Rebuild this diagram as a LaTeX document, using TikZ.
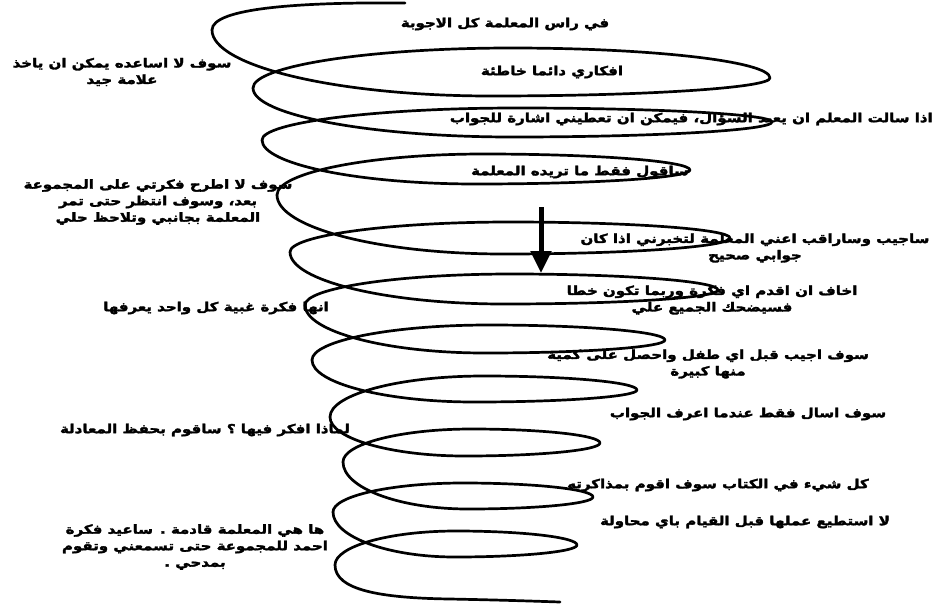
\documentclass[tikz,border=0pt]{standalone}
\usepackage{fontspec}
\newfontfamily\arabicfont[Script=Arabic, UprightFont=* Bold, FakeStretch=1.2, FakeBold=2.5]{DejaVu Sans}
\TeXXeTstate=1
\usetikzlibrary{arrows.meta}
\newcommand\rl[1]{\beginR#1\endR}

\begin{document}
\begin{tikzpicture}[x=1pt, y=-1pt,
  coil/.style={line width=2.7pt, line cap=round, line join=round},
  say/.style={font={\arabicfont\fontsize{12.5}{16.5}\selectfont}, align=center, inner sep=0pt},
  push/.style={line width=5pt, -{Triangle[width=20pt,length=22pt]}}]

  \useasboundingbox (0,0) rectangle (937,606);

  % -- Coil: start at the top --
  \draw[coil] (405,3) .. controls (300,2) and (212,8) .. (212,30);

  % -- Coil: one turn per row (left tip, right tip, next left tip) --
  \foreach \xl/\yl/\xr/\yr/\xn/\yn/\db/\dt in {
      212/30/770/78/253/88/18/30,
      253/88/772/122/262/140/15/14,
      262/140/690/170/277/195/14/16,
      277/195/730/238/290/252/16/16,
      290/252/718/290/305/305/14/16,
      305/305/665/340/312/360/13/15,
      312/360/637/390/330/417/12/14,
      330/417/600/443/343/462/13/14,
      343/462/593/497/333/512/12/14,
      333/512/577/545/335/565/12/14} {
    \pgfmathsetmacro\xb{(\xl+\xr)/2}
    \pgfmathsetmacro\yb{\yr+\db}
    \pgfmathsetmacro\xt{(\xr+\xn)/2}
    \pgfmathsetmacro\yt{\yr-\dt}
    \draw[coil] (\xl,\yl)
      .. controls (\xl,{\yl+0.55*(\yb-\yl)}) and ({\xb-0.55*(\xb-\xl)},\yb) .. (\xb,\yb)
      .. controls ({\xb+0.55*(\xr-\xb)},\yb) and (\xr,{\yr+0.55*(\yb-\yr)}) .. (\xr,\yr)
      .. controls (\xr,{\yr-0.55*(\yr-\yt)}) and ({\xt+0.55*(\xr-\xt)},\yt) .. (\xt,\yt)
      .. controls ({\xt-0.55*(\xt-\xn)},\yt) and (\xn,{\yn-0.55*(\yn-\yt)}) .. (\xn,\yn);
  }

  % -- Coil: tail at the bottom --
  \draw[coil] (335,565) .. controls (335,590) and (380,598) .. (450,599)
    .. controls (500,600) and (530,601) .. (560,602);

  % -- Down arrow --
  \coordinate (arrowtop) at (541,207);
  \coordinate (arrowtip) at (541,273);
  \draw[push] (arrowtop) -- (arrowtip);

  % -- Thoughts inside the coil (right) --
  \node[say] (head)    at (505,24)  {\rl{في راس المعلمة كل الاجوبة}};
  \node[say] (wrong)   at (552,72)  {\rl{افكاري دائما خاطئة}};
  \node[say, anchor=east] (hint) at (933,119) {\rl{اذا سالت المعلم ان يعيد السؤال، فيمكن ان تعطيني اشارة للجواب}};
  \node[say] (only)    at (580,172) {\rl{ساقول فقط ما تريده المعلمة}};
  \node[say] (watch)   at (755,248) {\rl{ساجيب وساراقب اعني المعلمة لتخبرني اذا كان}\\\rl{جوابي صحيح}};
  \node[say] (afraid)  at (712,300) {\rl{اخاف ان اقدم اي فكرة وربما تكون خطا}\\\rl{فسيضحك الجميع علي}};
  \node[say] (first)   at (708,364) {\rl{سوف اجيب قبل اي طفل واحصل على كمية}\\\rl{منها كبيرة}};
  \node[say] (ask)     at (748,414) {\rl{سوف اسال فقط عندما اعرف الجواب}};
  \node[say] (book)    at (718,485) {\rl{كل شيء في الكتاب سوف اقوم بمذاكرته}};
  \node[say] (cannot)  at (745,522) {\rl{لا استطيع عملها قبل القيام باي محاولة}};

  % -- Thoughts outside the coil (left) --
  \node[say] (help)    at (122,72)  {\rl{سوف لا اساعده يمكن ان ياخذ}\\\rl{علامة جيد}};
  \node[say] (wait)    at (158,202) {\rl{سوف لا اطرح فكرتي على المجموعة}\\\rl{بعد، وسوف انتظر حتى تمر}\\\rl{المعلمة بجانبي وتلاحظ حلي}};
  \node[say] (silly)   at (216,308) {\rl{انها فكرة غبية كل واحد يعرفها}};
  \node[say] (formula) at (205,430) {\rl{لماذا افكر فيها ؟ ساقوم بحفظ المعادلة}};
  \node[say] (ahmed)   at (195,547) {\rl{ها هي المعلمة قادمة . ساعيد فكرة}\\\rl{احمد للمجموعة حتى تسمعني وتقوم}\\\rl{بمدحي .}};

\end{tikzpicture}
\end{document}
